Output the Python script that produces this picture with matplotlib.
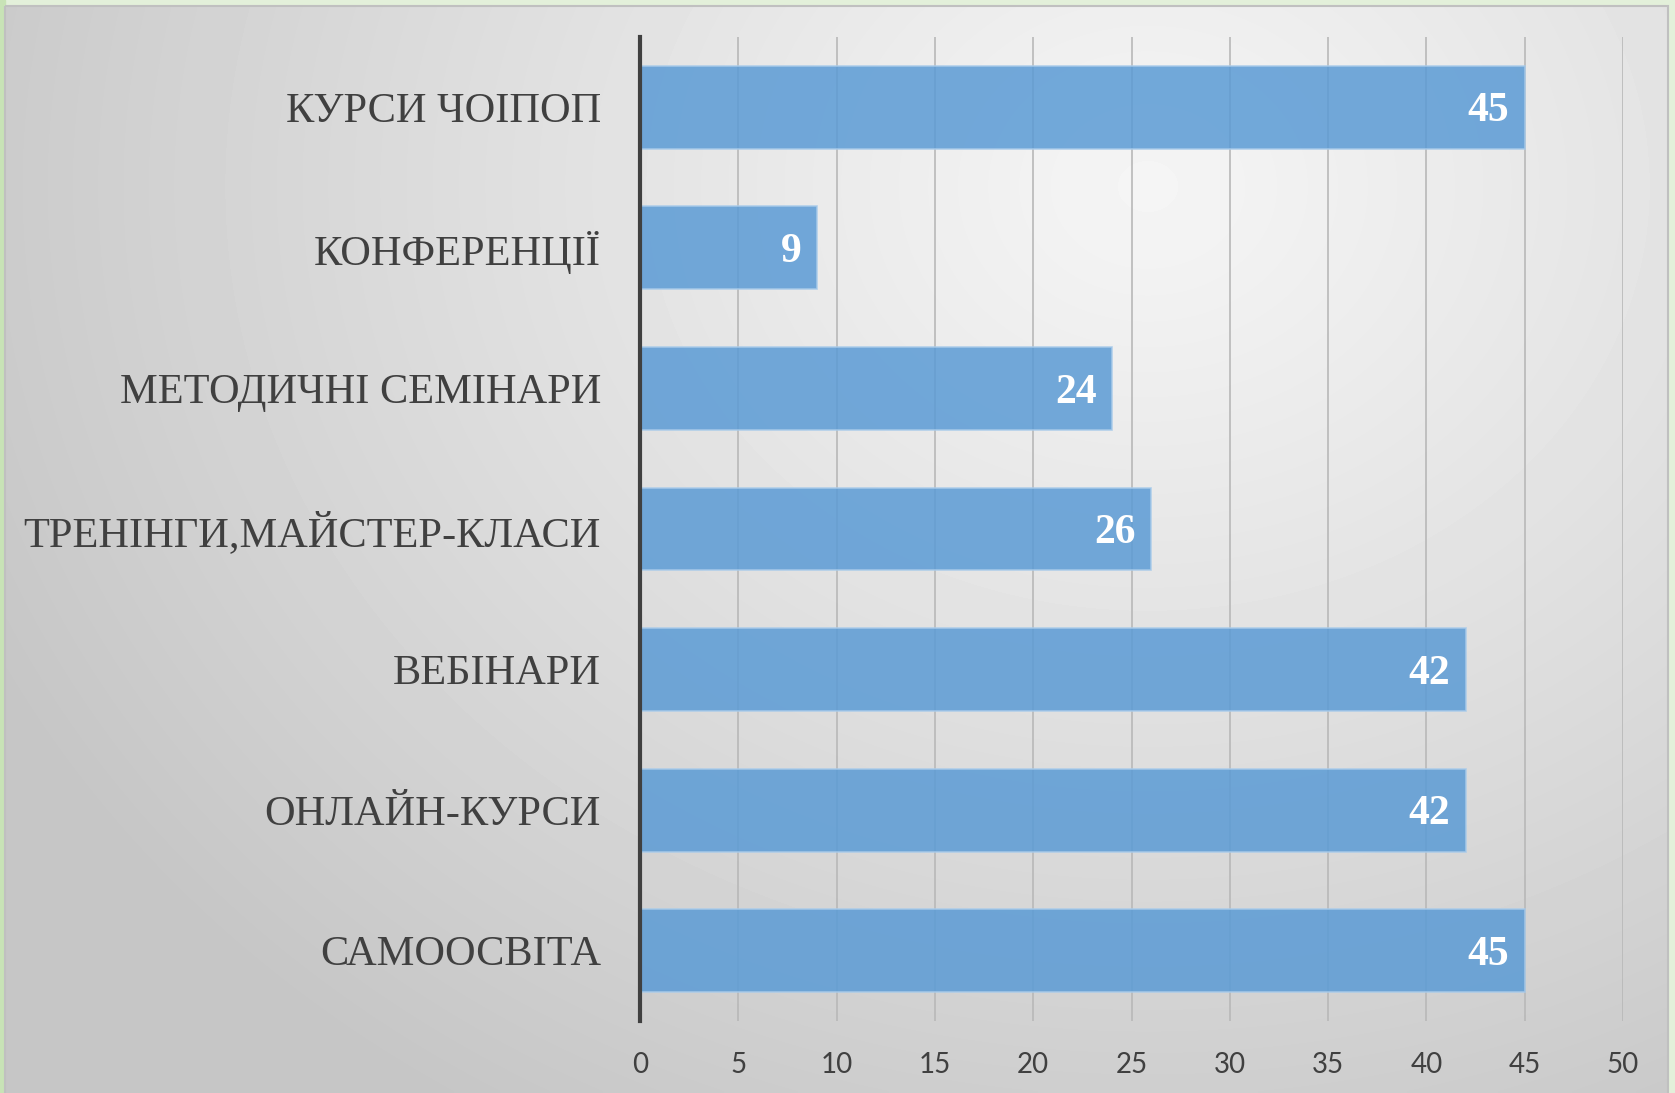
import numpy as np
import matplotlib
matplotlib.use("Agg")
import matplotlib.pyplot as plt
from matplotlib.patches import Rectangle

categories = ['САМООСВІТА', 'ОНЛАЙН-КУРСИ', 'ВЕБІНАРИ', 'ТРЕНІНГИ,МАЙСТЕР-КЛАСИ',
              'МЕТОДИЧНІ СЕМІНАРИ', 'КОНФЕРЕНЦІЇ', 'КУРСИ ЧОІПОП']
values = [45, 42, 42, 26, 24, 9, 45]
x_ticks = [0, 5, 10, 15, 20, 25, 30, 35, 40, 45, 50]

W, H = 1675, 1093
fig = plt.figure(figsize=(W / 100, H / 100), dpi=100)

# background: green slide edge, grey frame, radial grey gradient
bg = fig.add_axes([0, 0, 1, 1], zorder=-10)
bg.axis('off')
bg.add_patch(Rectangle((0, 0), W, H, color='#e3f0da', zorder=0))
bg.add_patch(Rectangle((0, 0), 5, H, color='#c8e3b6', zorder=0))
yy, xx = np.mgrid[0:H:4, 0:W:4]
cx, cy = 1150, 180
d = np.sqrt(((xx - cx) / 1300.0) ** 2 + ((yy - cy) / 1100.0) ** 2)
d = np.clip(d, 0, 1)
shade = 0.96 - 0.185 * d ** 1.1
bg.imshow(shade, cmap='gray', vmin=0, vmax=1, extent=(5, 1668, H, 6),
          interpolation='bilinear', aspect='auto', zorder=2)
bg.add_patch(Rectangle((5, 6), 1663, H, fill=False, edgecolor='#c0c0c0', lw=1.5, zorder=3))
bg.set_xlim(0, W)
bg.set_ylim(H, 0)

ax = fig.add_axes([640 / W, 1 - 1021 / H, (1623 - 640) / W, (1021 - 37) / H])
ax.patch.set_alpha(0)

y = np.arange(len(categories))
bars = ax.barh(y, values, height=0.59, color='#5b9bd5', alpha=0.85,
               edgecolor='#a9cbea', linewidth=1.2, zorder=3)
for yi, v in zip(y, values):
    ax.annotate(str(v), (v, yi), xytext=(-11, -3), textcoords='offset points',
                ha='right', va='center', color='white', fontsize=30,
                fontweight='bold', family='Liberation Serif', zorder=4)

ax.set_xlim(0, 50)
ax.set_ylim(-0.5, len(categories) - 0.5)
ax.set_xticks(x_ticks)
ax.set_yticks(y)
ax.set_yticklabels(categories, family='Liberation Serif', fontsize=30.5, color='#404040',
                   va='center_baseline')
ax.xaxis.set_tick_params(length=0, pad=22, labelsize=20, labelcolor='#404040')
ax.yaxis.set_tick_params(length=0, pad=28)
for lbl in ax.get_xticklabels():
    lbl.set_family(['Lato', 'DejaVu Sans'])
ax.grid(axis='x', color='#b8b8b8', lw=1.2, zorder=1)
ax.grid(axis='y', visible=False)
for s in ['top', 'right', 'bottom']:
    ax.spines[s].set_visible(False)
ax.spines['left'].set_color('#404040')
ax.spines['left'].set_linewidth(3)
ax.spines['left'].set_zorder(5)

fig.savefig('out.png', dpi=100)
